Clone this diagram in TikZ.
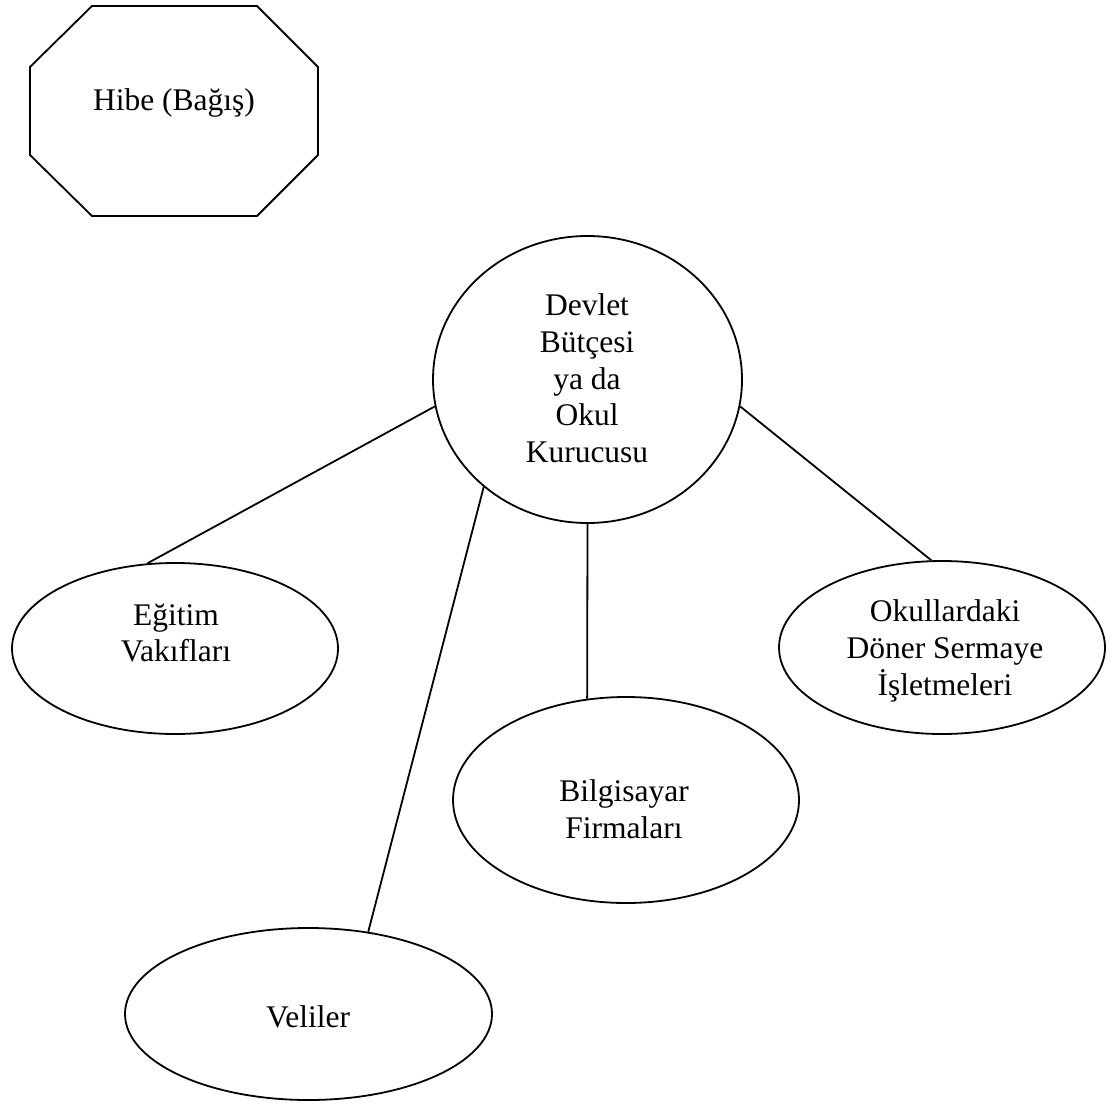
\documentclass[tikz,border=0pt]{standalone}
\usepackage{fontspec}
\setmainfont{Liberation Serif}
\usetikzlibrary{shapes.geometric}
\begin{document}
\begin{tikzpicture}[x=1pt,y=-1pt,line width=1.8pt,
  shapebox/.style={draw, ellipse, inner sep=0pt},
  lbl/.style={align=center, inner sep=0pt, font=\fontsize{31.5}{36.9}\selectfont}]
\useasboundingbox (0,0) rectangle (1115,1107);
% octagon
\draw (92,6) -- (257,6) -- (318,67) -- (318,155) -- (257,216) -- (92,216) -- (30,155) -- (30,67) -- cycle;
\node[lbl, anchor=base] (hibe) at (174,111) {Hibe (Bağış)};
% shapes
\node[shapebox, minimum width=309pt, minimum height=287pt] (dev) at (587.5,379.5) {};
\node[shapebox, minimum width=326pt, minimum height=171pt] (egitim) at (175,648.5) {};
\node[shapebox, minimum width=326pt, minimum height=173pt] (okul) at (942,647.5) {};
\node[shapebox, minimum width=346pt, minimum height=206pt] (bilg) at (626,800) {};
\node[shapebox, minimum width=367pt, minimum height=172pt] (veli) at (308.5,1014) {};
% texts
\node[lbl] (devT) at (587,378.3) {Devlet\\Bütçesi\\ya da\\Okul\\Kurucusu};
\node[lbl] (egitimT) at (176,633) {Eğitim\\Vakıfları};
\node[lbl] (okulT) at (945,651) {Okullardaki\\Döner Sermaye\\İşletmeleri};
\node[lbl] (bilgT) at (624,809) {Bilgisayar\\Firmaları};
\node[lbl, anchor=base] (veliT) at (308,1027) {Veliler};
% connectors
\draw (dev.190) -- (egitim.108);
\draw (dev.226) -- (veli.54);
\draw (dev.270) -- (bilg.111);
\draw (dev.350) -- (okul.97);
\end{tikzpicture}
\end{document}
